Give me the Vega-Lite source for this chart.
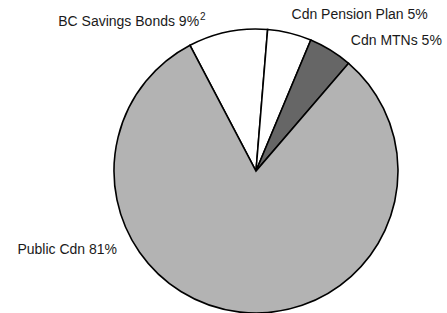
{
  "$schema": "https://vega.github.io/schema/vega-lite/v6.json",
  "width": 284,
  "height": 284,
  "autosize": {"type": "none"},
  "padding": {"left": 114, "top": 29, "right": 49, "bottom": 0},
  "background": "white",
  "config": {"view": {"stroke": null}, "text": {"font": "Liberation Sans", "fontSize": 14, "color": "#1a1a1a"}},
  "data": {"values": [
    {"label": "BC Savings Bonds 9%", "note": "2", "name": "BC Savings Bonds", "value": 9, "seq": 1},
    {"label": "Cdn Pension Plan 5%", "note": "", "name": "Cdn Pension Plan", "value": 5, "seq": 2},
    {"label": "Cdn MTNs 5%", "note": "", "name": "Cdn MTNs", "value": 5, "seq": 3},
    {"label": "Public Cdn 81%", "note": "", "name": "Public Cdn", "value": 81, "seq": 4}
  ]},
  "encoding": {
    "theta": {"field": "value", "type": "quantitative", "stack": true, "scale": {"range": [-0.4835, 5.7997]}},
    "order": {"field": "seq", "type": "quantitative"}
  },
  "layer": [
    {
      "mark": {"type": "arc", "outerRadius": 142, "stroke": "black", "strokeWidth": 1.6},
      "encoding": {
        "color": {"field": "name", "type": "nominal", "legend": null,
          "scale": {"domain": ["BC Savings Bonds", "Cdn Pension Plan", "Cdn MTNs", "Public Cdn"], "range": ["#ffffff", "#ffffff", "#666666", "#b3b3b3"]}}
      }
    },
    {
      "mark": {"type": "text", "radius": 150, "align": "right", "baseline": "alphabetic", "dx": -27, "dy": 2},
      "encoding": {"text": {"condition": {"test": "datum.seq == 1", "field": "label"}, "value": ""}}
    },
    {
      "mark": {"type": "text", "radius": 150, "align": "left", "baseline": "alphabetic", "dx": -26, "dy": -4, "fontSize": 10},
      "encoding": {"text": {"field": "note"}}
    },
    {
      "mark": {"type": "text", "radius": 150, "align": "left", "baseline": "alphabetic", "dx": 0, "dy": -6},
      "encoding": {"text": {"condition": {"test": "datum.seq == 2", "field": "label"}, "value": ""}}
    },
    {
      "mark": {"type": "text", "radius": 150, "align": "left", "baseline": "alphabetic", "dx": 16, "dy": 2},
      "encoding": {"text": {"condition": {"test": "datum.seq == 3", "field": "label"}, "value": ""}}
    },
    {
      "mark": {"type": "text", "radius": 150, "align": "right", "baseline": "alphabetic", "dx": -122, "dy": -66},
      "encoding": {"text": {"condition": {"test": "datum.seq == 4", "field": "label"}, "value": ""}}
    }
  ]
}
